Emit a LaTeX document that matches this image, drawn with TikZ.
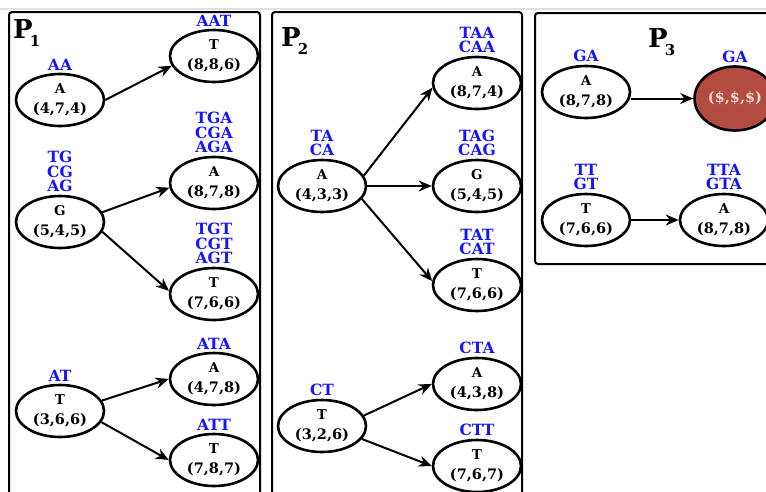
\documentclass[tikz,border=0pt]{standalone}
\usepackage{fontspec}
\setmainfont{DejaVu Serif}
\usetikzlibrary{arrows.meta,shapes.geometric}
\definecolor{labblue}{RGB}{20,20,255}
\definecolor{endred}{RGB}{180,75,65}
\definecolor{endtxt}{RGB}{245,215,215}
\tikzset{
 state/.style={ellipse, draw, line width=2.6pt, minimum width=88pt, minimum height=52pt, inner sep=0pt, align=center, font=\bfseries\fontsize{14.5}{20}\selectfont},
 lab/.style={text=labblue, align=center, inner sep=0pt, anchor=south, yshift=2.5pt, font=\bfseries\fontsize{15.5}{14.5}\selectfont},
 arr/.style={line width=2pt, -{Stealth[length=13pt,width=11pt]}},
 panel/.style={draw, line width=2pt, rounded corners=3pt},
 ptitle/.style={anchor=base west, inner sep=0pt, font=\bfseries\fontsize{26}{26}\selectfont},
}
\newcommand{\stx}[2]{{\fontsize{13.5}{20}\selectfont #1}\\#2}
\newcommand{\psub}[1]{\kern-3pt\raisebox{-8pt}{\fontsize{15}{15}\selectfont #1}}
\begin{document}
\begin{tikzpicture}[x=1pt,y=-1pt]
\useasboundingbox (0,0) rectangle (766,491);
\clip (0,0) rectangle (766,491);
\fill[white] (0,0) rectangle (766,491);
\draw[gray!25, line width=1.5pt] (0,9) -- (766,9);
% panels
\draw[panel] (9,12) rectangle (260,500);
\draw[panel] (272,12) rectangle (522,500);
\draw[panel] (535,13) rectangle (780,264);
\node[ptitle] (pt1) at (13,38) {P\psub{1}};
\node[ptitle] (pt2) at (281,46) {P\psub{2}};
\node[ptitle] (pt3) at (648,47) {P\psub{3}};
% P1
\node[state] (a1) at (60,100) {\stx{A}{(4,7,4)}};
\node[state] (b1) at (214,56) {\stx{T}{(8,8,6)}};
\node[state] (g1) at (60,222) {\stx{G}{(5,4,5)}};
\node[state] (b2) at (214,183) {\stx{A}{(8,7,8)}};
\node[state] (b3) at (214,294) {\stx{T}{(7,6,6)}};
\node[state] (t1) at (60,411) {\stx{T}{(3,6,6)}};
\node[state] (b4) at (214,379) {\stx{A}{(4,7,8)}};
\node[state] (b5) at (214,460) {\stx{T}{(7,8,7)}};
\node[lab] (la1) at (a1.north) {AA};
\node[lab] (lb1) at (b1.north) {AAT};
\node[lab] (lg1) at (g1.north) {TG\\CG\\AG};
\node[lab] (lb2) at (b2.north) {TGA\\CGA\\AGA};
\node[lab] (lb3) at (b3.north) {TGT\\CGT\\AGT};
\node[lab] (lt1) at (t1.north) {AT};
\node[lab] (lb4) at (b4.north) {ATA};
\node[lab] (lb5) at (b5.north) {ATT};
\draw[arr] (a1.east) -- (b1.193);
\draw[arr] (g1.13) -- (b2.186);
\draw[arr] (g1.-13) -- (b3.176);
\draw[arr] (t1.14) -- (b4.180);
\draw[arr] (t1.-15) -- (b5.180);
% P2
\node[state] (p2a) at (322,186) {\stx{A}{(4,3,3)}};
\node[state] (c1) at (477,83) {\stx{A}{(8,7,4)}};
\node[state] (c2) at (477,186) {\stx{G}{(5,4,5)}};
\node[state] (c3) at (477,285) {\stx{T}{(7,6,6)}};
\node[state] (p2t) at (322,426) {\stx{T}{(3,2,6)}};
\node[state] (c4) at (477,384) {\stx{A}{(4,3,8)}};
\node[state] (c5) at (477,466) {\stx{T}{(7,6,7)}};
\node[lab] (lp2a) at (p2a.north) {TA\\CA};
\node[lab] (lc1) at (c1.north) {TAA\\CAA};
\node[lab] (lc2) at (c2.north) {TAG\\CAG};
\node[lab] (lc3) at (c3.north) {TAT\\CAT};
\node[lab] (lp2t) at (p2t.north) {CT};
\node[lab] (lc4) at (c4.north) {CTA};
\node[lab] (lc5) at (c5.north) {CTT};
\draw[arr] (p2a.14) -- (c1.186);
\draw[arr] (p2a.east) -- (c2.west);
\draw[arr] (p2a.-18) -- (c3.175);
\draw[arr] (p2t.14) -- (c4.180);
\draw[arr] (p2t.-18) -- (c5.180);
% P3
\node[state] (d1) at (586,92) {\stx{A}{(8,7,8)}};
\node[state, fill=endred, text=endtxt, minimum width=81pt, minimum height=64pt] (red) at (735,98.5) {(\$,\$,\$)};
\node[state] (d2) at (586,220) {\stx{T}{(7,6,6)}};
\node[state] (d3) at (724,220) {\stx{A}{(8,7,8)}};
\node[lab] (ld1) at (d1.north) {GA};
\node[lab] (lred) at (red.north) {GA};
\node[lab] (ld2) at (d2.north) {TT\\GT};
\node[lab] (ld3) at (d3.north) {TTA\\GTA};
\draw[arr] (d1.east |- red.center) -- (red.west);
\draw[arr] (d2.east) -- (d3.west);
\end{tikzpicture}
\end{document}
